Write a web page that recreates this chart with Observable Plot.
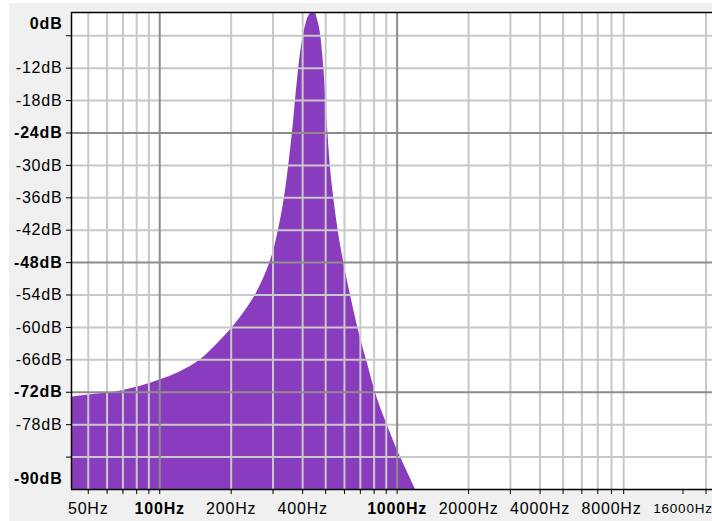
<!DOCTYPE html>
<html><head><meta charset="utf-8">
<script src="https://cdn.jsdelivr.net/npm/d3@7"></script>
<script src="https://cdn.jsdelivr.net/npm/@observablehq/plot@0.6"></script>
<style>html,body{margin:0;padding:0;background:#f0f0f0}</style>
</head><body><div id="chart"></div>
<script>
// Spectrum (frequency in Hz, level in dB)
const freqHz = [42.5, 50.1, 69.6, 82.9, 100.7, 122.2, 148.4, 175.0, 202.4, 228.5, 253.0, 273.4, 291.2, 305.1, 316.2, 335.1, 349.4, 362.2, 379.2, 391.5, 404.3, 417.8, 431.4, 445.4, 460.3, 475.3, 490.8, 501.4, 511.2, 522.7, 540.8, 564.3, 595.8, 636.0, 682.8, 742.6, 809.9, 907.6, 1032.6, 1119, 1194.5];
const levelDb = [-72.9, -72.5, -71.7, -70.9, -69.7, -68.2, -66.0, -63.0, -60.0, -57.0, -54.0, -51.0, -48.0, -45.0, -42.0, -36.0, -30.0, -24.0, -14.8, -9.3, -5.6, -3.1, -1.85, -1.0, -2.8, -5.6, -11.8, -18.0, -24.0, -30.0, -36.0, -42.0, -48.0, -54.0, -60.0, -66.0, -72.0, -78.0, -84.0, -87.3, -90.0];

// Axes
const xDomain = [42.5, 21300];
const yDomain = [-90, -1.7];
const xMinorGrid = [50, 60, 70, 80, 90, 200, 300, 400, 500, 600, 700, 800, 900, 2000, 3000, 4000, 5000, 6000, 7000, 8000, 9000, 20000];
const xMajorGrid = [100, 1000];
const xExtraTicks = [16000];
const xLabelsRegular = [50, 200, 400, 2000, 4000, 8000];
const xLabelsBold = [100, 1000];
const xLabelsSmall = [16000];
const yMinorGrid = [-6, -12, -18, -30, -36, -42, -54, -60, -66, -78, -84];
const yMajorGrid = [-24, -48, -72];
const yLabelsRegular = [-12, -18, -30, -36, -42, -54, -60, -66, -78];
const yLabelsBold = [-24, -48, -72];
const yTopLabel = ["0dB"];
const yBottomLabel = ["-90dB"];

const spectrum = freqHz.map((f, i) => ({f, db: levelDb[i]}));
const FS = 16;
const hz = d => `${d}Hz`;
const dbf = d => `${d}dB`;

const chart = Plot.plot({
  width: 712, height: 521,
  marginLeft: 71, marginRight: 0, marginTop: 12, marginBottom: 32,
  style: {
    background: "linear-gradient(to right, #ffffff 9px, transparent 9px), linear-gradient(to bottom, #ffffff 3px, #f0f0f0 3px)",
    fontFamily: "'Liberation Sans', Arial, sans-serif", fontSize: FS + "px", color: "black", letterSpacing: "0.8px"
  },
  x: {type: "log", domain: xDomain, label: null},
  y: {domain: yDomain, label: null},
  marks: [
    Plot.frame({fill: "white", stroke: null}),
    Plot.areaY(spectrum, {x: "f", y1: yDomain[0], y2: "db", fill: "#8a3cbe", curve: "monotone-x", clip: true}),
    Plot.ruleX(xMinorGrid, {stroke: "#c8c8c8", strokeWidth: 2}),
    Plot.ruleY(yMinorGrid, {stroke: "#c8c8c8", strokeWidth: 2}),
    Plot.ruleX(xMajorGrid, {stroke: "#8c8c8c", strokeWidth: 2}),
    Plot.ruleY(yMajorGrid, {stroke: "#8c8c8c", strokeWidth: 2}),
    Plot.ruleX([xDomain[0]], {stroke: "black", strokeWidth: 1.5}),
    Plot.ruleY([yDomain[0]], {stroke: "black", strokeWidth: 1.5}),
    Plot.ruleY([yDomain[1]], {stroke: "black", strokeWidth: 1.5}),
    Plot.axisY([...yMinorGrid, ...yMajorGrid], {tickSize: 5, tickFormat: () => "", stroke: "black", label: null}),
    Plot.axisY(yLabelsRegular, {tickSize: 0, tickPadding: 9, tickFormat: dbf, fontSize: FS, fill: "black", label: null}),
    Plot.axisY(yLabelsBold, {tickSize: 0, tickPadding: 9, tickFormat: dbf, fontSize: FS, fontWeight: "bold", fill: "black", label: null}),
    Plot.text(yTopLabel, {frameAnchor: "top-left", dx: -9, dy: 11, textAnchor: "end", lineAnchor: "middle", fontWeight: "bold", fontSize: FS, fill: "black"}),
    Plot.text(yBottomLabel, {frameAnchor: "bottom-left", dx: -9, dy: -11, textAnchor: "end", lineAnchor: "middle", fontWeight: "bold", fontSize: FS, fill: "black"}),
    Plot.axisX([...xMinorGrid, ...xMajorGrid, ...xExtraTicks], {tickSize: 5, tickFormat: () => "", stroke: "black", label: null}),
    Plot.text(xLabelsRegular, {x: d => d, text: hz, frameAnchor: "bottom", lineAnchor: "middle", dy: 19.5, fontSize: FS, fill: "black"}),
    Plot.text(xLabelsBold, {x: d => d, text: hz, frameAnchor: "bottom", lineAnchor: "middle", dy: 19.5, fontSize: FS, fontWeight: "bold", fill: "black"}),
    Plot.text(xLabelsSmall, {x: d => d, text: hz, frameAnchor: "bottom", lineAnchor: "middle", dy: 19.5, fontSize: 13.5, fill: "black"})
  ]
});
document.getElementById("chart").append(chart);
</script>
</body></html>
